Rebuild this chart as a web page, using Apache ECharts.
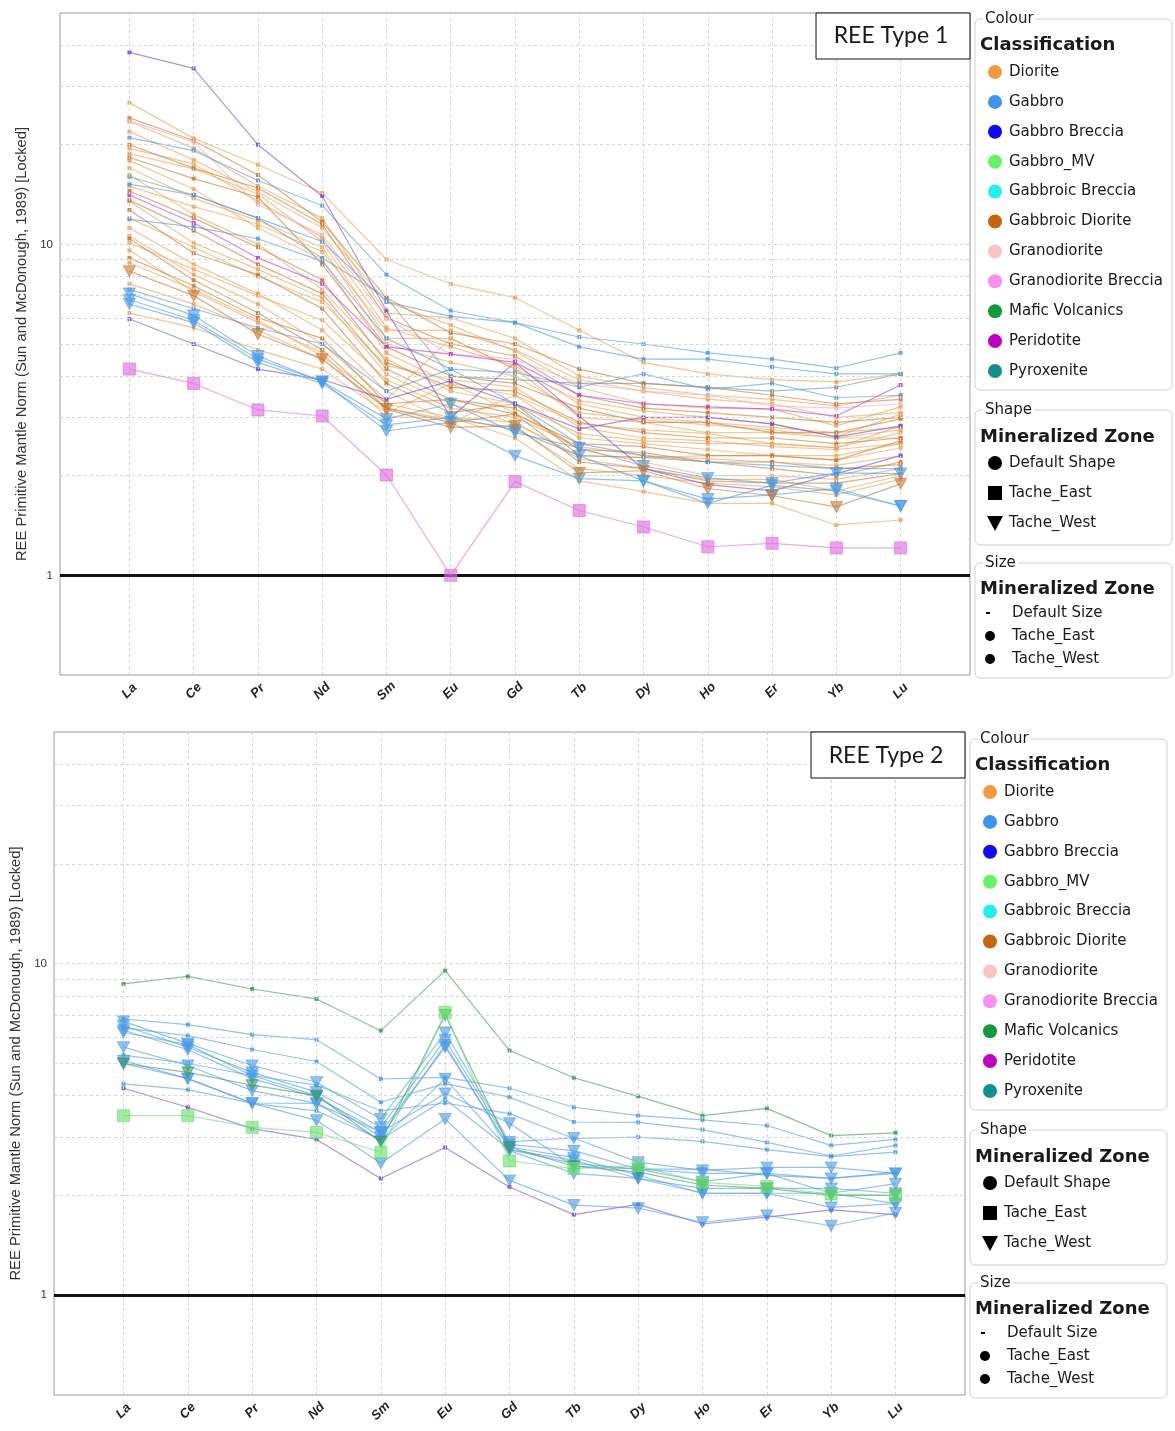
<!DOCTYPE html>
<html>
<head>
<meta charset="utf-8">
<script src="https://cdn.jsdelivr.net/npm/echarts@6/dist/echarts.min.js"></script>
<style>html,body{margin:0;padding:0;background:#fff;}#c{width:1175px;height:1431px;}</style>
</head>
<body>
<div id="c"></div>
<script>
// ---------- categories & ticks ----------
const ELEMENTS = ['La','Ce','Pr','Nd','Sm','Eu','Gd','Tb','Dy','Ho','Er','Yb','Lu'];
const Y_LABEL_TICKS = [1, 10];
const MINOR_GRID = [2,3,4,5,6,7,8,9,10,20,30,40];
const CLASSES = ['Diorite','Gabbro','Gabbro Breccia','Gabbro_MV','Gabbroic Breccia','Gabbroic Diorite','Granodiorite','Granodiorite Breccia','Mafic Volcanics','Peridotite','Pyroxenite'];
const ZONES = ['Default Shape','Tache_East','Tache_West'];
const SIZES = ['Default Size','Tache_East','Tache_West'];

// ---------- REE Type 1 values (La..Lu) ----------
const T1_DIORITE = [
  [26.8,20.9,17.4,14.3,9.0,7.6,6.9,5.5,4.4,4.06,3.9,3.84,4.06],
  [23.5,19.5,15.0,12.0,6.2,6.0,5.2,4.0,3.7,3.5,3.4,3.25,3.5],
  [21.9,18.0,14.4,11.2,6.7,5.7,4.76,3.7,3.3,3.2,3.18,2.83,3.23],
  [19.5,17.5,13.5,10.5,5.6,4.9,4.3,3.3,3.0,2.9,2.8,2.7,2.8],
  [18.8,16.9,14.2,10.2,5.2,5.2,4.2,3.37,3.14,3.0,2.87,2.62,3.07],
  [17.9,14.7,11.2,9.0,4.7,3.8,3.5,2.87,2.75,2.68,2.5,2.43,2.83],
  [17.0,13.8,11.8,9.8,5.0,4.4,4.0,3.1,2.95,2.85,2.75,2.6,2.75],
  [16.2,12.3,10.0,7.3,4.5,3.6,3.3,2.68,2.55,2.5,2.5,2.43,2.7],
  [15.0,13.0,11.5,9.5,5.5,5.5,4.8,3.9,3.6,3.4,3.3,3.0,3.1],
  [13.5,10.1,8.4,6.9,4.05,3.3,2.87,2.3,2.27,2.3,2.3,2.23,2.43],
  [12.0,9.8,8.0,6.7,4.3,3.9,3.7,2.8,2.6,2.55,2.45,2.4,2.5],
  [11.2,8.7,7.1,5.5,3.6,2.9,3.5,2.6,2.5,2.4,2.3,2.3,2.5],
  [10.6,8.1,6.6,5.0,3.4,5.2,4.2,3.0,2.9,2.7,2.7,2.6,2.6],
  [10.1,8.4,7.0,5.9,3.9,3.2,3.0,2.45,2.3,2.25,2.2,2.15,2.3],
  [9.6,7.2,5.8,4.7,3.0,3.0,2.6,1.93,1.79,1.65,1.65,1.42,1.47],
  [8.8,7.3,5.9,4.6,3.3,3.0,2.9,2.25,2.1,1.95,1.95,1.8,2.0],
  [7.6,6.6,5.5,4.5,3.2,2.95,2.8,2.1,2.0,1.9,1.85,1.75,1.95],
  [6.2,5.6,4.8,4.2,3.1,3.8,3.1,2.4,2.2,2.0,2.0,1.95,2.1]
];
const T1_GABBROIC_DIORITE = [
  [24.1,20.6,16.2,11.7,6.9,5.4,5.0,4.2,3.8,3.7,3.5,3.3,3.4],
  [20.0,17.0,14.8,11.5,6.0,5.0,4.6,3.5,3.2,3.1,3.0,2.9,3.0],
  [18.3,15.8,13.9,8.7,4.9,4.0,3.8,3.2,2.9,2.9,2.7,2.7,2.97],
  [14.5,12.0,9.8,7.8,4.4,3.7,3.6,2.9,2.7,2.6,2.6,2.5,2.6],
  [13.6,11.0,8.7,7.1,4.2,3.4,3.07,2.5,2.45,2.3,2.3,2.23,2.55],
  [12.7,9.4,8.1,6.4,3.8,3.1,3.3,2.3,2.27,2.2,2.2,2.1,2.16],
  [10.4,7.8,6.2,4.8,3.2,2.9,3.07,2.2,2.1,1.93,1.9,1.9,2.03],
  [9.1,7.5,6.0,5.2,3.3,3.4,3.2,2.4,2.35,2.2,2.1,2.0,2.2]
];
const T1_GABBROIC_DIORITE_WEST = [
  [8.3,7.0,5.35,4.5,3.18,2.8,2.83,2.04,2.07,1.83,1.74,1.61,1.89]
];
const T1_GRANODIORITE = [
  [23.6,20.4,13.2,10.7,5.95,4.66,4.5,3.8,3.6,3.5,3.25,3.2,3.3]
];
const T1_PYROXENITE = [
  [16.0,14.1,12.0,9.1,6.9,4.0,3.9,3.8,3.8,3.7,3.6,3.7,4.06]
];
const T1_GABBRO = [
  [21.0,19.2,15.6,13.1,8.1,6.3,5.8,5.25,5.0,4.7,4.5,4.23,4.7],
  [15.2,14.1,12.0,10.2,6.7,6.06,5.8,4.9,4.5,4.5,4.26,4.06,4.06],
  [11.9,11.3,10.4,8.9,5.2,4.2,4.1,3.7,4.06,3.65,3.8,3.44,3.5],
  [7.3,6.4,5.6,5.0,3.6,4.2,3.3,2.5,2.3,2.2,2.15,2.1,2.1]
];
const T1_GABBRO_WEST = [
  [7.1,6.1,4.6,3.85,2.97,3.3,2.7,2.43,2.14,1.97,1.9,2.04,2.03],
  [6.8,5.9,4.5,3.85,2.73,2.9,2.3,1.96,1.93,1.70,1.75,1.83,1.62],
  [6.6,5.8,4.4,3.8,2.85,3.0,2.75,2.3,1.93,1.65,1.87,1.8,1.62]
];
const T1_GABBRO_BRECCIA = [
  [38,34,20,14,6.3,3.0,4.4,3.03,2.1,1.88,1.80,2.03,2.3],
  [5.95,5.0,4.2,3.9,3.4,3.87,3.3,2.77,3.0,3.0,2.87,2.62,2.83]
];
const T1_PERIDOTITE = [
  [14.1,11.6,9.1,7.6,4.9,4.66,4.4,3.5,3.3,3.23,3.18,3.03,3.76]
];
const T1_GRANODIORITE_BRECCIA_EAST = [
  [4.2,3.8,3.16,3.03,2.01,1.0,1.92,1.57,1.40,1.22,1.25,1.21,1.21]
];

// ---------- REE Type 2 values (La..Lu) ----------
const T2_MAFIC_VOLCANICS = [
  [8.69,9.16,8.39,7.83,6.28,9.53,5.47,4.53,3.98,3.48,3.66,3.03,3.09]
];
const T2_MAFIC_VOLCANICS_WEST = [
  [5.0,4.7,4.3,4.0,2.9,7.0,2.8,2.45,2.35,2.15,2.1,2.0,2.0]
];
const T2_GABBRO_MV_EAST = [
  [3.48,3.48,3.21,3.10,2.70,7.13,2.54,2.41,2.46,2.19,2.13,2.02,2.0]
];
const T2_GABBRO_BRECCIA = [
  [4.21,3.69,3.18,2.95,2.25,2.79,2.12,1.75,1.88,1.64,1.72,1.81,1.75]
];
const T2_GABBRO = [
  [6.81,6.55,6.11,5.90,4.49,4.54,4.21,3.69,3.48,3.38,3.25,2.83,2.95],
  [6.4,6.07,5.51,5.07,3.82,4.35,3.96,3.33,3.32,3.16,2.89,2.63,2.83],
  [5.3,5.0,4.6,4.3,3.6,3.8,3.53,2.97,3.0,2.91,2.75,2.62,2.70],
  [4.34,4.17,3.79,3.6,2.95,3.9,2.75,2.5,2.4,2.4,2.3,2.25,2.35]
];
const T2_GABBRO_WEST = [
  [6.7,5.75,4.93,4.39,3.4,6.2,2.9,2.98,2.52,2.38,2.43,2.43,2.33],
  [6.5,5.6,4.7,4.1,3.21,5.9,2.85,2.73,2.4,2.33,2.33,2.25,2.33],
  [6.3,5.5,4.5,3.96,3.1,5.6,2.8,2.6,2.3,2.03,2.03,2.03,2.17],
  [6.2,5.7,4.6,4.0,3.0,5.7,2.75,2.55,2.25,2.1,2.1,2.1,2.03],
  [5.6,4.93,4.14,3.79,2.93,4.5,2.73,2.33,2.25,2.03,2.03,1.84,1.89],
  [5.1,4.5,3.79,3.37,2.5,3.4,2.22,1.87,1.83,1.66,1.74,1.62,1.77],
  [5.0,4.5,3.8,3.79,3.1,4.06,3.3,2.45,2.4,2.2,2.33,2.03,1.89]
];

// ---------- styles ----------
const LEGEND_COLORS = {
  'Diorite':'#f59a3c','Gabbro':'#3c94ec','Gabbro Breccia':'#0c0cf0','Gabbro_MV':'#66f266',
  'Gabbroic Breccia':'#22eeee','Gabbroic Diorite':'#c8640a','Granodiorite':'#f8c4c4',
  'Granodiorite Breccia':'#f890f0','Mafic Volcanics':'#109a3c','Peridotite':'#c000c0','Pyroxenite':'#10908e'
};
const LINE_COLORS = {
  'Diorite':'#f0a050','Gabbroic Diorite':'#c8782e','Gabbro':'#4a9be6','Gabbro Breccia':'#6d4fd8',
  'Granodiorite':'#f4a8b8','Granodiorite Breccia':'#e070e0','Peridotite':'#c830c8','Pyroxenite':'#6a9a9a',
  'Mafic Volcanics':'#3a9a5a','Gabbro_MV':'#70e070'
};

function makeSeries(rows, cls, zone, gi) {
  const c = LINE_COLORS[cls];
  return rows.map(r => {
    const s = {
      type:'line', xAxisIndex:gi, yAxisIndex:gi, silent:true,
      data: r.map((v,i)=>[i,v]),
      lineStyle:{color:c, width:1.2, opacity:0.6},
      itemStyle:{color:c, opacity:0.85},
      z: 3
    };
    if (zone === 'Tache_West') {
      s.symbol = 'triangle'; s.symbolRotate = 180; s.symbolSize = [12,11];
      s.itemStyle = {color:c, opacity:0.6, borderColor:c, borderWidth:1};
      s.z = 5;
    } else if (zone === 'Tache_East') {
      s.symbol = 'rect'; s.symbolSize = 12;
      s.itemStyle = {color:c, opacity:0.65, borderColor:c, borderWidth:1};
      s.z = 5;
    } else {
      s.symbol = 'rect'; s.symbolSize = 4;
    }
    return s;
  });
}

function gridLines(gi) {
  return {
    type:'line', xAxisIndex:gi, yAxisIndex:gi, data:[[0,1]], showSymbol:false, silent:true,
    lineStyle:{opacity:0}, z:1,
    markLine:{
      silent:true, symbol:['none','none'], label:{show:false}, animation:false,
      lineStyle:{type:[3,3], color:'#d6d6d6', width:1},
      data: ELEMENTS.map((_,i)=>({xAxis:i})).concat(MINOR_GRID.map(v=>({yAxis:v})))
    }
  };
}
function unityLine(gi) {
  return {
    type:'line', xAxisIndex:gi, yAxisIndex:gi, data:[[0,1]], showSymbol:false, silent:true,
    lineStyle:{opacity:0}, z:4,
    markLine:{
      silent:true, symbol:['none','none'], label:{show:false}, animation:false,
      lineStyle:{type:'solid', color:'#111', width:3},
      data:[{yAxis:1}]
    }
  };
}

const series = [gridLines(0), gridLines(1)]
  .concat(makeSeries(T1_DIORITE,'Diorite','Default',0))
  .concat(makeSeries(T1_GABBROIC_DIORITE,'Gabbroic Diorite','Default',0))
  .concat(makeSeries(T1_GRANODIORITE,'Granodiorite','Default',0))
  .concat(makeSeries(T1_PYROXENITE,'Pyroxenite','Default',0))
  .concat(makeSeries(T1_GABBRO,'Gabbro','Default',0))
  .concat(makeSeries(T1_GABBRO_BRECCIA,'Gabbro Breccia','Default',0))
  .concat(makeSeries(T1_PERIDOTITE,'Peridotite','Default',0))
  .concat(makeSeries(T1_GABBRO_WEST,'Gabbro','Tache_West',0))
  .concat(makeSeries(T1_GABBROIC_DIORITE_WEST,'Gabbroic Diorite','Tache_West',0))
  .concat(makeSeries(T1_GRANODIORITE_BRECCIA_EAST,'Granodiorite Breccia','Tache_East',0))
  .concat(makeSeries(T2_GABBRO,'Gabbro','Default',1))
  .concat(makeSeries(T2_MAFIC_VOLCANICS,'Mafic Volcanics','Default',1))
  .concat(makeSeries(T2_GABBRO_BRECCIA,'Gabbro Breccia','Default',1))
  .concat(makeSeries(T2_GABBRO_WEST,'Gabbro','Tache_West',1))
  .concat(makeSeries(T2_MAFIC_VOLCANICS_WEST,'Mafic Volcanics','Tache_West',1))
  .concat(makeSeries(T2_GABBRO_MV_EAST,'Gabbro_MV','Tache_East',1))
  .concat([unityLine(0), unityLine(1)]);

const AXIS_NAME = 'REE Primitive Mantle Norm (Sun and McDonough, 1989) [Locked]';
function yAxis(gi) {
  return {
    type:'log', logBase:10, min:0.5, max:50, gridIndex:gi,
    name:AXIS_NAME, nameLocation:'middle', nameRotate:90, nameGap:31,
    nameTextStyle:{fontSize:14.8, fontFamily:'Liberation Sans', color:'#333'},
    axisLine:{show:false}, axisTick:{show:false}, splitLine:{show:false},
    axisLabel:{
      fontSize:11.5, fontFamily:'Liberation Sans', color:'#333', margin:7,
      formatter: v => Y_LABEL_TICKS.some(t => Math.abs(v - t) < 1e-6) ? String(v) : ''
    }
  };
}
function xAxis(gi) {
  return {
    type:'value', min:-1.08, max:13.08, gridIndex:gi,
    axisLine:{show:false}, axisTick:{show:false}, splitLine:{show:false},
    axisLabel:{
      customValues: ELEMENTS.map((_,i)=>i),
      formatter: v => ELEMENTS[Math.round(v)] || '',
      rotate:45, align:'center', verticalAlign:'middle', margin:16,
      fontSize:13, fontWeight:'bold', fontStyle:'italic', fontFamily:'Liberation Sans', color:'#222'
    }
  };
}

// ---------- legend panels (drawn as graphics) ----------
function legendPanel(dx, dy, title) {
  const g = [];
  const F = '"DejaVu Sans"';
  const txt = (x,y,t,font,extra) => Object.assign({type:'text', z:100, style:Object.assign({
    text:t, x:x+dx, y:y+dy, font:font, fill:'#1a1a1a', verticalAlign:'middle', align:'left'}, extra||{})});
  const box = (y0,y1) => ({type:'rect', z:99, shape:{x:975+dx, y:y0+dy, width:197, height:y1-y0, r:5},
    style:{fill:'#fff', stroke:'#d0d0d0', lineWidth:1}});
  // title box
  g.push({type:'rect', z:99, shape:{x:816+dx, y:13+dy-(dy?1:0), width:154, height:46},
    style:{fill:'#fff', stroke:'#111', lineWidth:1}});
  g.push(txt(891,36,title,'23px Lato',{align:'center'}));
  // colour
  g.push(box(19,390));
  g.push(txt(983,19,'Colour','15px '+F,{backgroundColor:'#fff', padding:[0,2]}));
  g.push(txt(980,45,'Classification','bold 18px '+F));
  CLASSES.forEach((c,i) => {
    const y = 72 + i*29.9;
    g.push({type:'circle', z:100, shape:{cx:995+dx, cy:y+dy, r:7}, style:{fill:LEGEND_COLORS[c]}});
    g.push(txt(1009,y,c,'15px '+F));
  });
  // shape
  g.push(box(410,545));
  g.push(txt(983,410,'Shape','15px '+F,{backgroundColor:'#fff', padding:[0,2]}));
  g.push(txt(980,437,'Mineralized Zone','bold 18px '+F));
  g.push({type:'circle', z:100, shape:{cx:995+dx, cy:463+dy, r:7}, style:{fill:'#000'}});
  g.push({type:'rect', z:100, shape:{x:988+dx, y:486+dy, width:14, height:14}, style:{fill:'#000'}});
  g.push({type:'polygon', z:100, shape:{points:[[987+dx,516+dy],[1003+dx,516+dy],[995+dx,531+dy]]}, style:{fill:'#000'}});
  ZONES.forEach((z,i) => g.push(txt(1009, 463+i*30, z, '15px '+F)));
  // size
  g.push(box(563,678));
  g.push(txt(983,563,'Size','15px '+F,{backgroundColor:'#fff', padding:[0,2]}));
  g.push(txt(980,589,'Mineralized Zone','bold 18px '+F));
  g.push({type:'rect', z:100, shape:{x:986+dx, y:612+dy, width:4, height:2}, style:{fill:'#000'}});
  g.push({type:'circle', z:100, shape:{cx:990+dx, cy:636+dy, r:5}, style:{fill:'#000'}});
  g.push({type:'circle', z:100, shape:{cx:990+dx, cy:659+dy, r:5}, style:{fill:'#000'}});
  SIZES.forEach((s,i) => g.push(txt(1012, 613+i*23, s, '15px '+F)));
  return g;
}

const option = {
  animation:false,
  backgroundColor:'#fff',
  grid:[
    {left:60, top:13, width:910, height:662, show:true, borderColor:'#9a9a9a', borderWidth:1, backgroundColor:'#fff'},
    {left:52, top:732, width:913, height:663, show:true, borderColor:'#9a9a9a', borderWidth:1, backgroundColor:'#fff'}
  ],
  xAxis:[xAxis(0), xAxis(1)],
  yAxis:[yAxis(0), yAxis(1)],
  series: series,
  graphic: legendPanel(0,0,'REE Type 1').concat(legendPanel(-5,720,'REE Type 2'))
};

const chart = echarts.init(document.getElementById('c'), null, {renderer:'canvas'});
chart.setOption(option);
</script>
</body>
</html>
